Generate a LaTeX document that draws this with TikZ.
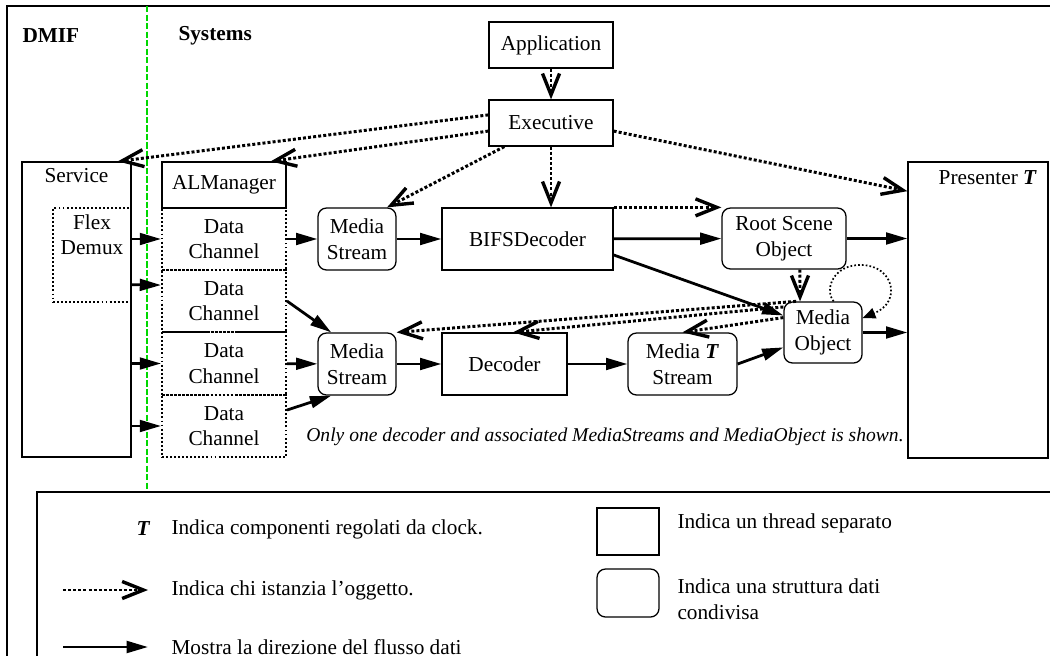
\documentclass[tikz,border=0pt]{standalone}
\usepackage{fontspec}
\setmainfont{Liberation Serif}
\usetikzlibrary{arrows.meta}
\definecolor{sysline}{RGB}{0,215,0}
\newcommand{\px}{0.47pt}
\newcommand{\clk}{\textbf{\textit{T}}}

\begin{document}
\begin{tikzpicture}[x=0.47pt, y=-0.47pt,
    wh/.style 2 args = {minimum width=#1*\px, minimum height=#2*\px},
    thread/.style = {draw, line width=0.6pt, inner sep=0pt, align=center},
    shared/.style = {draw, line width=0.6pt, rounded corners=4pt, inner sep=0pt, align=center},
    chan/.style = {draw, densely dotted, line width=0.9pt, inner sep=0pt, align=center},
    flow/.style = {-{Triangle[length=10pt,width=5.5pt]}, line width=1.3pt},
    inst/.style = {-{Straight Barb[length=10pt,width=8pt,line width=1.6pt]}, densely dotted, line width=1.4pt}]
    \useasboundingbox (0,0) rectangle (1050,656);
    \clip (0,0) rectangle (1050,656);

    \draw[line width=1pt] (7,6) rectangle (1070,700);
    \draw[sysline, line width=0.6pt, dash pattern=on 3pt off 1pt] (147,6) -- (147,490);
    \node[font=\bfseries, anchor=west] (dmif) at (15,36) {DMIF};
    \node[font=\bfseries, anchor=west] (sys) at (171,36) {Systems};

    \node[thread, wh={124}{46}] (app) at (551,45) {Application};
    \node[thread, wh={124}{46}] (exec) at (551,123) {Executive};
    \node[thread, wh={109}{295}] (service) at (76.5,309.5) {};
    \node[anchor=north] at (service.north) {Service};
    \node[chan, wh={78}{94}] (demux) at (92,255) {};
    \node[anchor=north, align=center] at (demux.north) {Flex\\Demux};
    \node[thread, wh={124}{46}] (almgr) at (224,185) {ALManager};
    \node[chan, wh={124}{62}] (dc1) at (224,239) {Data\\Channel};
    \node[chan, wh={124}{62}] (dc2) at (224,301) {Data\\Channel};
    \node[chan, wh={124}{63}] (dc3) at (224,363.5) {Data\\Channel};
    \node[chan, wh={124}{62}] (dc4) at (224,426) {Data\\Channel};
    \node[shared, wh={78}{62}] (ms1) at (357,239) {Media\\Stream};
    \node[thread, wh={171}{62}] (bifs) at (527.5,239) {BIFSDecoder};
    \node[shared, wh={124}{61}] (rso) at (784,238.5) {Root Scene\\Object};
    \node[thread, wh={140}{296}] (pres) at (978,310) {};
    \node[anchor=north east] at ([xshift=-2pt,yshift=-1pt]pres.north east) {Presenter \clk};
    \node[shared, wh={78}{61}] (mo) at (823,332.5) {Media\\Object};
    \node[shared, wh={78}{62}] (ms2) at (357,364) {Media\\Stream};
    \node[thread, wh={125}{62}] (dec) at (504.5,364) {Decoder};
    \node[shared, wh={109}{62}] (mts) at (682.5,364) {Media \clk\\Stream};
    \node[font=\fontsize{9.2}{11}\selectfont\itshape] (note) at (605,437) {Only one decoder and associated MediaStreams and MediaObject is shown.};

    \draw[inst] (app) -- (exec);
    \draw[inst] ([yshift=3.8pt]exec.west) -- ([xshift=-6.5pt]service.north east);
    \draw[inst] ([yshift=-3.8pt]exec.west) -- ([xshift=-7.5pt]almgr.north east);
    \draw[inst] ([xshift=7.5pt]exec.south west) -- ([xshift=-4.5pt]ms1.north east);
    \draw[inst] (exec.south) -- (exec.south |- bifs.north);
    \draw[inst] ([yshift=-3.8pt]exec.east) -- ([yshift=-14pt]pres.north west);
    \draw[inst] (bifs.north east) -- (rso.north west);
    \draw[inst] ([xshift=7.5pt]rso.south) -- ([xshift=-10.8pt]mo.north);
    \draw[inst] ([xshift=6pt]mo.north west) -- (ms2.north east);
    \draw[inst] ([yshift=12pt]mo.west) -- ([xshift=4pt]dec.north);
    \draw[inst] ([yshift=7pt]mo.west) -- (mts.north);
    \draw[densely dotted, line width=0.8pt, -{Triangle[length=6pt,width=5pt]}]
        ([xshift=5pt]mo.north) .. controls (824,290) and (833,264) .. (862,265)
        .. controls (894,266) and (902,302) .. ([yshift=6.8pt]mo.east);

    \draw[flow] (demux.east |- dc1) -- (dc1.west);
    \draw[flow] ([yshift=-14pt]demux.east) -- ([yshift=7.5pt]dc2.west);
    \draw[flow] (service.east |- dc3) -- (dc3.west);
    \draw[flow] (service.east |- dc4) -- (dc4.west);
    \draw[flow] (dc1) -- (ms1);
    \draw[flow] (dc2.east) -- ([xshift=6.5pt]ms2.north west);
    \draw[flow] (dc3) -- (ms2);
    \draw[flow] ([yshift=7.5pt]dc4.east) -- ([xshift=6.5pt]ms2.south west);
    \draw[flow] (ms1) -- (bifs);
    \draw[flow] (bifs) -- (rso);
    \draw[flow] ([yshift=-7.5pt]bifs.east) -- ([yshift=8pt]mo.west);
    \draw[flow] (rso.east) -- (rso.east -| pres.west);
    \draw[flow] (ms2) -- (dec);
    \draw[flow] (dec) -- (mts);
    \draw[flow] (mts.east) -- ([yshift=-7pt]mo.west);
    \draw[flow] (mo.east) -- (mo.east -| pres.west);

    % legenda
    \draw[line width=1pt] (37,492) rectangle (1070,700);
    \node[font=\bfseries\itshape] (kclk) at (143,529) {T};
    \node[anchor=west] (lclk) at (164,529) {Indica componenti regolati da clock.};
    \coordinate (ia) at (63,590);
    \coordinate (ib) at (148,590);
    \draw[inst] (ia) -- (ib);
    \node[anchor=west] (linst) at (164,590) {Indica chi istanzia l'oggetto.};
    \coordinate (fa) at (63,647);
    \coordinate (fb) at (148,647);
    \draw[flow] (fa) -- (fb);
    \node[anchor=west] (lflow) at (164,647) {Mostra la direzione del flusso dati};
    \node[thread, wh={62}{47}] (kthread) at (628,531.5) {};
    \node[anchor=west] (lthread) at (670,523) {Indica un thread separato};
    \node[shared, wh={62}{48}] (kshared) at (628,593) {};
    \node[anchor=west, align=left] (lshared) at (670,599) {Indica una struttura dati\\condivisa};
\end{tikzpicture}
\end{document}
